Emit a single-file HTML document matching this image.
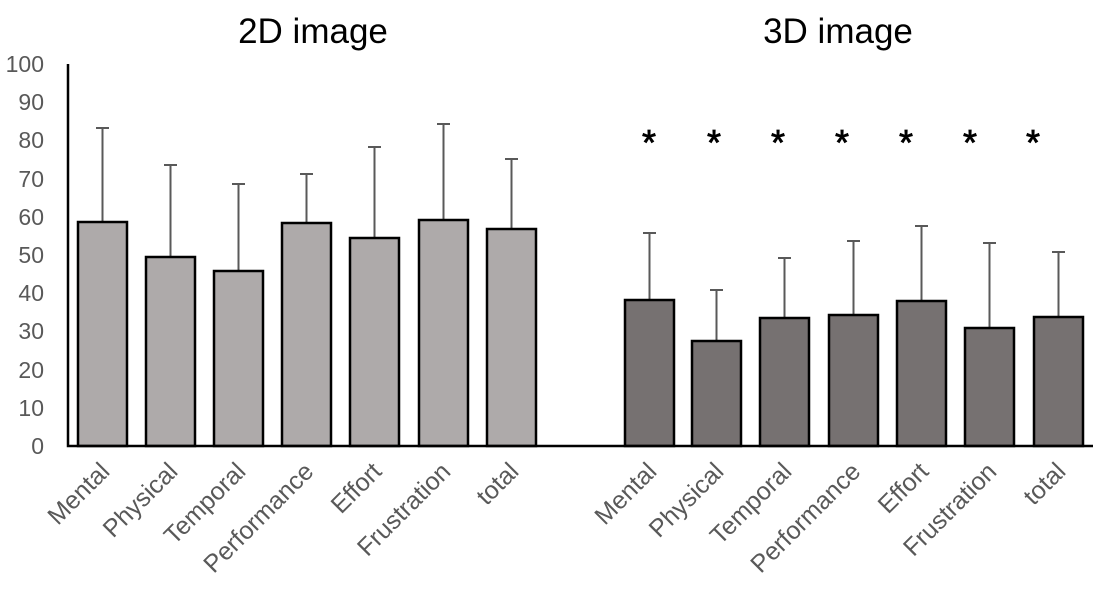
<!DOCTYPE html>
<html><head><meta charset="utf-8"><style>html,body{margin:0;padding:0;background:#fff}svg{display:block}</style></head>
<body>
<svg width="1103" height="589" viewBox="0 0 1103 589" xmlns="http://www.w3.org/2000/svg" font-family="Liberation Sans, sans-serif">
<rect width="1103" height="589" fill="#fff"/>
<text x="313" y="43" font-size="35" text-anchor="middle" fill="#000">2D image</text>
<text x="838" y="43" font-size="35" text-anchor="middle" fill="#000">3D image</text>
<g font-size="23" fill="#595959" text-anchor="end">
<text x="44" y="454">0</text><text x="44" y="416">10</text><text x="44" y="378">20</text><text x="44" y="339">30</text><text x="44" y="301">40</text><text x="44" y="263">50</text><text x="44" y="225">60</text><text x="44" y="187">70</text><text x="44" y="148">80</text><text x="44" y="110">90</text><text x="44" y="72">100</text>
</g>
<g stroke="#595959" stroke-width="2">
<path d="M102.5 222V128M96 128h13"/>
<path d="M170.5 257V165M164 165h13"/>
<path d="M238.5 271V184M232 184h13"/>
<path d="M306.5 223V174M300 174h13"/>
<path d="M374.5 238V147M368 147h13"/>
<path d="M443.5 220V124M437 124h13"/>
<path d="M511.5 229V159M505 159h13"/>
<path d="M649.5 300V233M643 233h13"/>
<path d="M716.5 341V290M710 290h13"/>
<path d="M784.5 318V258M778 258h13"/>
<path d="M853.5 315V241M847 241h13"/>
<path d="M921.5 301V226M915 226h13"/>
<path d="M989.5 328V243M983 243h13"/>
<path d="M1058.5 317V252M1052 252h13"/>
</g>
<g stroke="#000" stroke-width="2.5" fill="#aeaaaa">
<rect x="78" y="222" width="49" height="224"/>
<rect x="146" y="257" width="49" height="189"/>
<rect x="214" y="271" width="49" height="175"/>
<rect x="282" y="223" width="49" height="223"/>
<rect x="350" y="238" width="49" height="208"/>
<rect x="419" y="220" width="49" height="226"/>
<rect x="487" y="229" width="49" height="217"/>
</g>
<g stroke="#000" stroke-width="2.5" fill="#767171">
<rect x="625" y="300" width="49" height="146"/>
<rect x="692" y="341" width="49" height="105"/>
<rect x="760" y="318" width="49" height="128"/>
<rect x="829" y="315" width="49" height="131"/>
<rect x="897" y="301" width="49" height="145"/>
<rect x="965" y="328" width="49" height="118"/>
<rect x="1034" y="317" width="49" height="129"/>
</g>
<path d="M68 64V446H1093" stroke="#000" stroke-width="2.5" fill="none"/>
<g font-size="36" text-anchor="middle" fill="#000" stroke="#000" stroke-width="0.8">
<text x="649" y="155">*</text><text x="714" y="155">*</text><text x="778" y="155">*</text><text x="842" y="155">*</text><text x="906" y="155">*</text><text x="970" y="155">*</text><text x="1033" y="155">*</text>
</g>
<g font-size="25" fill="#595959" text-anchor="end">
<text transform="translate(111,473) rotate(-45)">Mental</text>
<text transform="translate(179,473) rotate(-45)">Physical</text>
<text transform="translate(247,473) rotate(-45)">Temporal</text>
<text transform="translate(315,473) rotate(-45)">Performance</text>
<text transform="translate(383,473) rotate(-45)">Effort</text>
<text transform="translate(452,473) rotate(-45)">Frustration</text>
<text transform="translate(520,473) rotate(-45)">total</text>
<text transform="translate(658,473) rotate(-45)">Mental</text>
<text transform="translate(725,473) rotate(-45)">Physical</text>
<text transform="translate(793,473) rotate(-45)">Temporal</text>
<text transform="translate(862,473) rotate(-45)">Performance</text>
<text transform="translate(930,473) rotate(-45)">Effort</text>
<text transform="translate(998,473) rotate(-45)">Frustration</text>
<text transform="translate(1067,473) rotate(-45)">total</text>
</g>
</svg>
</body></html>
